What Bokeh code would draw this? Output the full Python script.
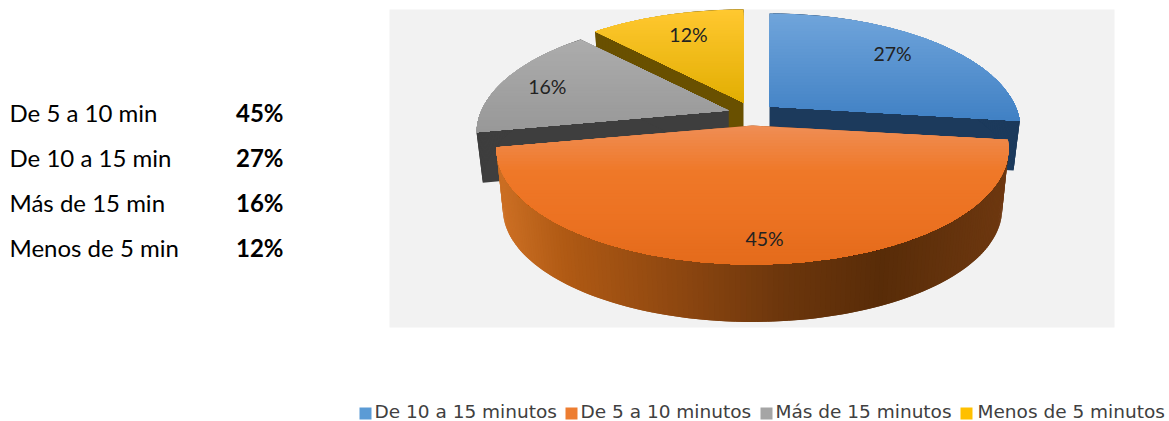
import math
from bokeh.core.properties import value
from bokeh.embed import file_html
from bokeh.models import Range1d
from bokeh.plotting import figure
from bokeh.resources import INLINE

# Chart data
slice_names = ["De 10 a 15 minutos", "De 5 a 10 minutos", "Más de 15 minutos", "Menos de 5 minutos"]
slice_values = [27, 45, 16, 12]
table_names = ["De 5 a 10 min", "De 10 a 15 min", "Más de 15 min", "Menos de 5 min"]
table_values = [45, 27, 16, 12]

W, H = 1169, 421
FONT = "Lato"

# Exploded-pie styling, one entry per slice in slice_values order
apex = [(769, 106), (752, 125), (728, 110), (743, 102)]
width_a = [246, 251, 247, 248]
depth = [50, 61, 51, 51]
label_frac = [0.75, 0.85, 0.80, 0.72]
label_nudge = [(-3, -3), (4, -1), (-2, 2), (3, -2)]
# Colour stops for each top face, from its back edge to its front edge
top_grad = [[(0x70, 0xA5, 0xDB), (0x40, 0x80, 0xC4)],
            [(0xEF, 0x8E, 0x55), (0xEF, 0x78, 0x28), (0xEC, 0x72, 0x22), (0xE4, 0x6B, 0x1B)],
            [(0xAC, 0xAC, 0xAC), (0x98, 0x98, 0x98)],
            [(0xFF, 0xC8, 0x30), (0xE2, 0xAE, 0x02)]]
wall_col = ["#1c3a5c", "#8a4510", "#3e3e3e", "#695000"]
legend_col = ["#5b9bd5", "#ed7d31", "#a5a5a5", "#ffc000"]
DEPTH_B, PERSP, BOTTOM_SCALE = 111.4, 0.198, 0.975
draw_order = [3, 2, 0, 1]

p = figure(width=W, height=H, output_backend="svg", toolbar_location=None,
           x_range=Range1d(0, W), y_range=Range1d(H, 0), min_border=0,
           background_fill_color="white", border_fill_color="white")
p.axis.visible = False
p.grid.visible = False
p.outline_line_color = None

# Plot-area panel behind the pie
p.quad(left=[389], right=[1114], top=[9], bottom=[327], fill_color="#f2f2f2", line_color=None)


def project(i, deg, frac=1.0, bottom=False):
    """Map a polar position on the slice's disc to a perspective page position."""
    t = math.radians(deg)
    u, v = frac * math.sin(t), frac * math.cos(t)
    s = 1 + PERSP * v
    x0, y0 = apex[i]
    x, y = width_a[i] * u / s, -DEPTH_B * v / s
    if bottom:
        return x0 + BOTTOM_SCALE * x, y0 + depth[i] + BOTTOM_SCALE * y
    return x0 + x, y0 + y


def clip_below(poly, y0):
    """Keep the part of a polygon at or below page row y0."""
    out = []
    for k, a in enumerate(poly):
        b = poly[(k + 1) % len(poly)]
        if a[1] >= y0:
            out.append(a)
        if (a[1] >= y0) != (b[1] >= y0):
            t = (y0 - a[1]) / (b[1] - a[1])
            out.append((a[0] + t * (b[0] - a[0]), y0))
    return out


def hexcol(c):
    return "#%02x%02x%02x" % tuple(int(round(a)) for a in c)


def mix(a, b, t):
    return [a[k] + (b[k] - a[k]) * t for k in range(3)]


def stops(colours, t):
    """Sample an evenly spaced list of colour stops at t in 0..1."""
    pos = t * (len(colours) - 1)
    k = min(int(pos), len(colours) - 2)
    return mix(colours[k], colours[k + 1], pos - k)


# Cumulative start/end angles from the values
angles, acc = [], 0.0
for val in slice_values:
    angles.append((acc, acc + val * 3.6))
    acc += val * 3.6

# Colour ramp along the front wall of the largest slice, page x -> colour
wall_ramp = [(490, (0xD0, 0x72, 0x26)), (560, (0xB0, 0x5A, 0x14)), (680, (0x8C, 0x46, 0x10)),
             (780, (0x6C, 0x36, 0x0C)), (880, (0x58, 0x2C, 0x08)), (1010, (0x6E, 0x38, 0x10))]


def ramp(x):
    for (x0, c0), (x1, c1) in zip(wall_ramp, wall_ramp[1:]):
        if x <= x1:
            return mix(c0, c1, max(0, (x - x0) / (x1 - x0)))
    return wall_ramp[-1][1]


for i in draw_order:
    a0, a1 = angles[i]
    n = max(8, int(a1 - a0))
    degs = [a0 + (a1 - a0) * k / n for k in range(n + 1)]
    xs0, ys0 = apex[i]
    bx, by = project(i, 0, 0, bottom=True)

    # Walls: two radial cuts, then the outer rim. Rim strips overlap the next
    # one so no hairline seams appear between them.
    wx, wy, wc = [], [], []
    for d in (a0, a1):
        tx, ty = project(i, d)
        ex, ey = project(i, d, bottom=True)
        wx.append([xs0, tx, ex, bx])
        wy.append([ys0, ty, ey, by])
        wc.append(wall_col[i])
    step = degs[1] - degs[0]
    for d0 in degs[:-1]:
        d1 = min(d0 + 2 * step, a1)
        q = [project(i, d0), project(i, d1), project(i, d1, bottom=True), project(i, d0, bottom=True)]
        wx.append([c[0] for c in q])
        wy.append([c[1] for c in q])
        mx = (q[0][0] + q[1][0]) / 2
        wc.append(hexcol(ramp(mx)) if i == 1 else wall_col[i])
    p.patches(wx, wy, fill_color=wc, line_color=None)

    # Top face: vertical gradient painted top-down, each layer covering the rest
    poly = [apex[i]] + [project(i, d) for d in degs]
    ymin = min(c[1] for c in poly)
    ymax = max(c[1] for c in poly)
    bands = int(ymax - ymin) // 3 + 1
    tx, ty, tc = [], [], []
    for b in range(bands):
        y0 = ymin + (ymax - ymin) * b / bands
        part = clip_below(poly, y0)
        if len(part) < 3:
            continue
        tx.append([c[0] for c in part])
        ty.append([c[1] for c in part])
        tc.append(hexcol(stops(top_grad[i], (b + 0.5) / bands)))
    p.patches(tx, ty, fill_color=tc, line_color=None)

# Percentage labels on the slices
lx, ly, lt = [], [], []
for i, val in enumerate(slice_values):
    mx, my = project(i, sum(angles[i]) / 2, label_frac[i])
    lx.append(mx + label_nudge[i][0])
    ly.append(my + label_nudge[i][1])
    lt.append(f"{val}%")
p.text(lx, ly, text=lt, text_font=value(FONT), text_font_size="19.5px", text_color="#222222",
       text_align="center", text_baseline="middle")

# Summary table at the left
row_y = [112, 157, 202, 247]
p.text([9] * 4, row_y, text=table_names, text_font=value(FONT), text_font_size="24px",
       text_color="#000000", text_align="left", text_baseline="middle")
p.text([283] * 4, row_y, text=[f"{v}%" for v in table_values], text_font=value(FONT),
       text_font_size="24px", text_font_style="bold", text_color="#000000",
       text_align="right", text_baseline="middle")

# Legend row
swatch_x = [359, 565, 760, 960]
text_x = [374, 580, 775, 977]
p.quad(left=swatch_x, right=[x + 12 for x in swatch_x], top=[407] * 4, bottom=[419] * 4,
       fill_color=legend_col, line_color=None)
p.text(text_x, [411] * 4, text=slice_names, text_font=value("DejaVu Sans"), text_font_size="18.5px",
       text_color="#404040", text_align="left", text_baseline="middle")

open("out.html", "w").write(file_html(p, INLINE))
